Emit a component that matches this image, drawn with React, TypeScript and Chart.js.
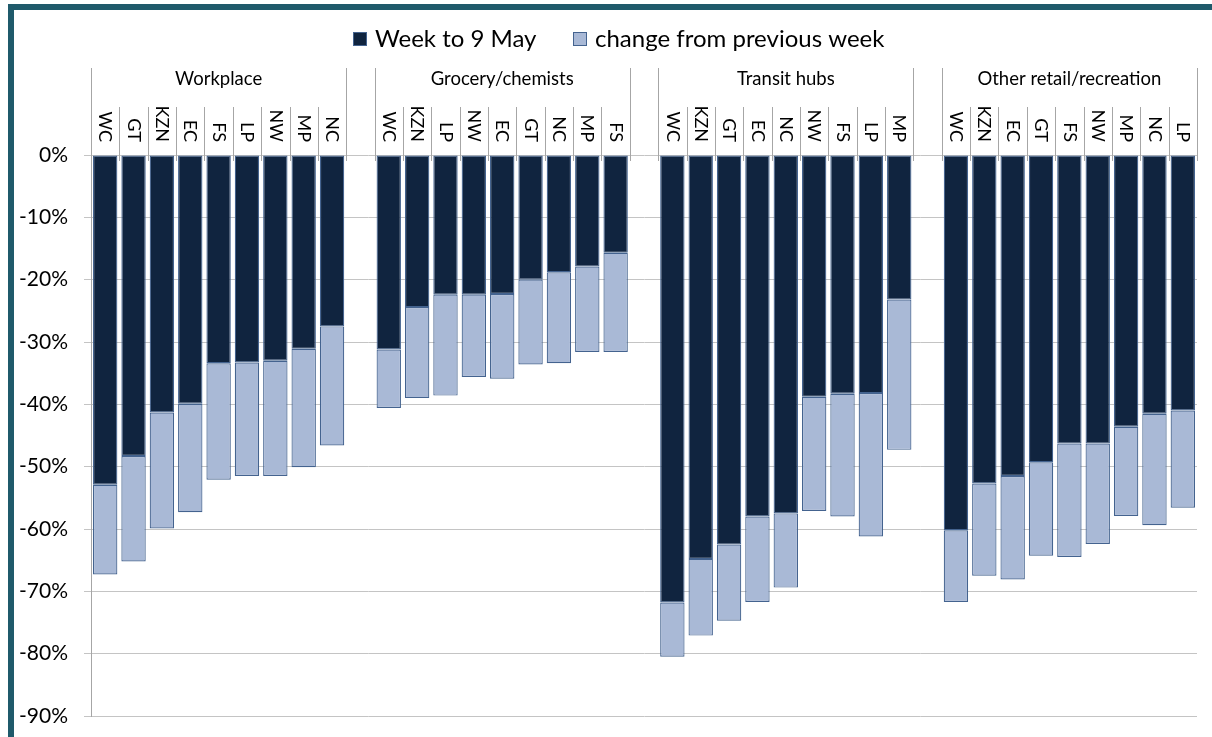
import React, { useEffect, useRef } from "react";
import { Chart, registerables } from "chart.js";

Chart.register(...registerables);

const groupNames = ["Workplace", "Grocery/chemists", "Transit hubs", "Other retail/recreation"];

const workplaceRegions = ["WC", "GT", "KZN", "EC", "FS", "LP", "NW", "MP", "NC"];
const workplaceWeek = [-52.9, -48.3, -41.3, -39.9, -33.4, -33.3, -33.0, -31.1, -27.5];
const workplaceChange = [-14.4, -16.9, -18.6, -17.4, -18.7, -18.2, -18.5, -19.0, -19.1];

const groceryRegions = ["WC", "KZN", "LP", "NW", "EC", "GT", "NC", "MP", "FS"];
const groceryWeek = [-31.2, -24.4, -22.4, -22.4, -22.3, -20.0, -18.8, -17.9, -15.7];
const groceryChange = [-9.4, -14.6, -16.2, -13.2, -13.6, -13.6, -14.6, -13.7, -15.9];

const transitRegions = ["WC", "KZN", "GT", "EC", "NC", "NW", "FS", "LP", "MP"];
const transitWeek = [-71.8, -64.8, -62.5, -58.0, -57.5, -38.8, -38.3, -38.2, -23.2];
const transitChange = [-8.7, -12.3, -12.2, -13.7, -11.9, -18.3, -19.7, -23.0, -24.1];

const otherRegions = ["WC", "KZN", "EC", "GT", "FS", "NW", "MP", "NC", "LP"];
const otherWeek = [-60.2, -52.7, -51.5, -49.3, -46.3, -46.3, -43.6, -41.5, -41.0];
const otherChange = [-11.5, -14.8, -16.6, -15.0, -18.2, -16.1, -14.3, -17.9, -15.6];

const yTicks = [0, -10, -20, -30, -40, -50, -60, -70, -80, -90];

const legendLabels = ["Week to 9 May", "change from previous week"];

const DARK = "#10243f";
const LIGHT = "#a9b9d6";
const EDGE = "#44638f";
const FONT = "Lato";

const groupRegions = [workplaceRegions, groceryRegions, transitRegions, otherRegions];
const groupWeek = [workplaceWeek, groceryWeek, transitWeek, otherWeek];
const groupChange = [workplaceChange, groceryChange, transitChange, otherChange];

function buildSeries() {
  const labels: string[] = [];
  const week: (number | null)[] = [];
  const change: (number | null)[] = [];
  const groupStart: number[] = [];
  groupRegions.forEach((regs, g) => {
    if (g > 0) {
      labels.push("");
      week.push(null);
      change.push(null);
    }
    groupStart.push(labels.length);
    regs.forEach((r, i) => {
      labels.push(r);
      week.push(groupWeek[g][i]);
      change.push(groupChange[g][i]);
    });
  });
  return { labels, week, change, groupStart };
}

export default function App() {
  const ref = useRef<HTMLCanvasElement | null>(null);

  useEffect(() => {
    const canvas = ref.current;
    if (!canvas) return;
    const { labels, week, change, groupStart } = buildSeries();

    const headerPlugin = {
      id: "header",
      afterDraw(chart: any) {
        const ctx = chart.ctx as CanvasRenderingContext2D;
        const x = chart.scales.x;
        const area = chart.chartArea;
        const w = x.getPixelForValue(1) - x.getPixelForValue(0);
        ctx.save();
        // legend
        const legendY = 47;
        let lx = 353;
        const colors = [DARK, LIGHT];
        ctx.font = `24px ${FONT}`;
        ctx.textBaseline = "alphabetic";
        ctx.textAlign = "left";
        legendLabels.forEach((t, i) => {
          ctx.fillStyle = colors[i];
          ctx.fillRect(lx, 32, 14, 14);
          ctx.strokeStyle = EDGE;
          ctx.lineWidth = 1;
          ctx.strokeRect(lx + 0.5, 32.5, 13, 13);
          ctx.fillStyle = "#000";
          ctx.fillText(t, lx + 22, legendY);
          lx = 573;
        });
        // header lines & labels
        ctx.strokeStyle = "#a6a6a6";
        ctx.lineWidth = 1;
        groupStart.forEach((s, g) => {
          const n = groupRegions[g].length;
          const left = x.getPixelForValue(s) - w / 2;
          const right = x.getPixelForValue(s + n - 1) + w / 2;
          [left, right].forEach((px) => {
            ctx.beginPath();
            ctx.moveTo(Math.round(px) + 0.5, 68);
            ctx.lineTo(Math.round(px) + 0.5, area.top + 6);
            ctx.stroke();
          });
          for (let k = 1; k < n; k++) {
            const px = x.getPixelForValue(s + k) - w / 2;
            ctx.beginPath();
            ctx.moveTo(Math.round(px) + 0.5, 107);
            ctx.lineTo(Math.round(px) + 0.5, area.top + 6);
            ctx.stroke();
          }
          ctx.fillStyle = "#000";
          ctx.font = `18.5px ${FONT}`;
          ctx.textAlign = "center";
          ctx.textBaseline = "alphabetic";
          ctx.fillText(groupNames[g], (left + right) / 2, 85);
          ctx.font = `18px ${FONT}`;
          groupRegions[g].forEach((r, k) => {
            const cx = x.getPixelForValue(s + k);
            ctx.save();
            ctx.translate(cx, 142);
            ctx.rotate(Math.PI / 2);
            ctx.textAlign = "right";
            ctx.textBaseline = "middle";
            ctx.fillText(r, 0, 0);
            ctx.restore();
          });
        });
        ctx.restore();
      },
    };

    const chart = new Chart(canvas, {
      type: "bar",
      data: {
        labels,
        datasets: [
          {
            label: legendLabels[0],
            data: week,
            backgroundColor: DARK,
            borderColor: EDGE,
            borderWidth: 1.2,
            borderSkipped: false,
            barPercentage: 0.86,
            categoryPercentage: 1,
          },
          {
            label: legendLabels[1],
            data: change,
            backgroundColor: LIGHT,
            borderColor: EDGE,
            borderWidth: 1.2,
            borderSkipped: false,
            barPercentage: 0.86,
            categoryPercentage: 1,
          },
        ],
      },
      options: {
        animation: false,
        responsive: false,
        maintainAspectRatio: false,
        layout: { padding: { top: 155, bottom: 21, right: 15, left: 0 } },
        plugins: {
          legend: { display: false },
          tooltip: { enabled: false },
          title: { display: false },
        },
        scales: {
          x: {
            display: false,
            stacked: true,
          },
          y: {
            stacked: true,
            min: -90,
            max: 0,
            afterFit: (s: any) => {
              s.width = 91;
              s.paddingTop = 0;
              s.paddingBottom = 0;
            },
            afterBuildTicks: (s: any) => {
              s.ticks = yTicks.map((v) => ({ value: v }));
            },
            ticks: {
              stepSize: 10,
              padding: 16,
              color: "#000",
              font: { family: FONT, size: 21 },
              callback: (v: any) => `${v}%`,
            },
            grid: {
              color: "#c4c4c4",
              lineWidth: 1,
              tickLength: 7,
              drawTicks: true,
            },
            border: { display: true, color: "#a6a6a6" },
          },
        },
      },
      plugins: [headerPlugin],
    });
    return () => chart.destroy();
  }, []);

  return (
    <div
      style={{
        position: "fixed",
        left: 0,
        top: 0,
        width: 1212,
        height: 737,
        overflow: "hidden",
        background: "#fff",
      }}
    >
      <canvas ref={ref} width={1212} height={737} style={{ position: "absolute", left: 0, top: 0, width: 1212, height: 737 }} />
      <div
        style={{
          position: "absolute",
          left: 8,
          top: 4,
          width: 1400,
          height: 900,
          border: "6px solid #1f5a6b",
          boxSizing: "border-box",
          pointerEvents: "none",
        }}
      />
    </div>
  );
}
